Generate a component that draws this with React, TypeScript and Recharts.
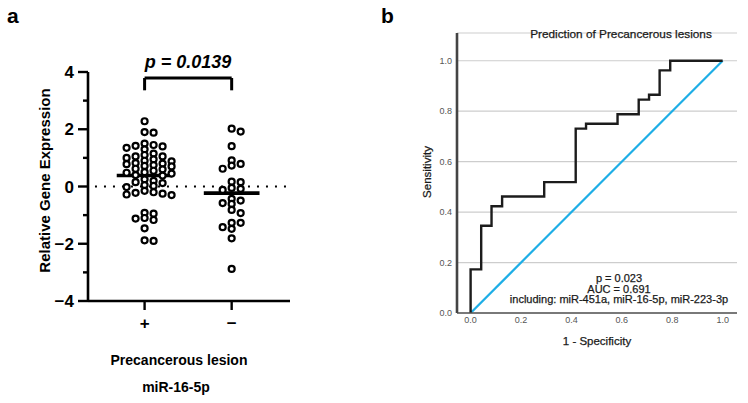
import React from 'react';
import {
  ScatterChart,
  Scatter,
  XAxis,
  YAxis,
  ReferenceLine,
  LineChart,
  Line,
  CartesianGrid,
} from 'recharts';

// ---- Panel a: miR-16-5p relative expression by lesion status ----
const lesionGroups = ['+', '−'];
const lesionPositive = [
  2.28,
  1.9, 1.88,
  1.5, 1.45, 1.42, 1.4, 1.35, 1.3,
  1.15, 1.1, 1.05, 1.05, 1.0, 0.95, 0.9, 0.88,
  0.82, 0.8, 0.78, 0.75, 0.72, 0.7, 0.62, 0.6,
  0.55, 0.5, 0.48, 0.45, 0.4, 0.38,
  0.25, 0.2, 0.15, 0.12, 0.05, 0.02, -0.02,
  -0.15, -0.2, -0.22, -0.25, -0.28, -0.3,
  -0.92, -0.95, -1.1, -1.12, -1.17,
  -1.46,
  -1.88, -1.9,
];
const lesionNegative = [
  2.02, 1.92, 1.41, 0.91, 0.79, 0.73, 0.62, 0.17, 0.15,
  -0.05, -0.08, -0.12, -0.43, -0.49, -0.58, -0.61, -0.82, -0.93,
  -1.27, -1.27, -1.42, -1.48, -1.81, -2.88,
];
const expressionTicks = [-4, -3, -2, -1, 0, 1, 2, 3, 4];
const pValueA = 'p = 0.0139';

// ---- Panel b: ROC curve ----
const rocFpr = [0, 0, 0.042, 0.083, 0.125, 0.292, 0.417, 0.458, 0.583, 0.667, 0.708, 0.75, 0.792, 1];
const rocTpr = [0, 0.173, 0.346, 0.423, 0.462, 0.519, 0.731, 0.75, 0.788, 0.846, 0.865, 0.962, 1, 1];
const chanceLine = [0, 1];
const rocTicks = [0, 0.2, 0.4, 0.6, 0.8, 1];
const rocTitle = 'Prediction of Precancerous lesions';
const rocStats = ['p = 0.023', 'AUC = 0.691', 'including: miR-451a, miR-16-5p, miR-223-3p'];

const FONT = 'Liberation Sans, Arial, Helvetica, sans-serif';

// Layout of panel a
const A_W = 300;
const A_H = 403;
const A_MARGIN = { top: 72, right: 10, bottom: 72, left: 48 };
const A_YAXIS_W = 40;
const A_XAXIS_H = 30;
const A_XDOMAIN: [number, number] = [0.35, 2.67];
const A_YDOMAIN: [number, number] = [-4, 4];
const A_PLOT_W = A_W - A_MARGIN.left - A_YAXIS_W - A_MARGIN.right;
const A_PLOT_H = A_H - A_MARGIN.top - A_MARGIN.bottom - A_XAXIS_H;
const PX_PER_X = A_PLOT_W / (A_XDOMAIN[1] - A_XDOMAIN[0]);
const PX_PER_Y = A_PLOT_H / (A_YDOMAIN[1] - A_YDOMAIN[0]);

// Column scatter: each value keeps its y and takes the nearest column
// (9 px apart) where it stays at least 5 px from the points already there
function swarm(values: number[], center: number) {
  const step = 9;
  const minDy = 5;
  const placed: { off: number; v: number }[] = [];
  const order = [...values].sort((a, b) => b - a);
  return order.map((v) => {
    for (let k = 0; k < 60; k++) {
      const off = (k % 2 === 1 ? 1 : -1) * Math.ceil(k / 2) * step;
      const hit = placed.some(
        (p) => Math.abs(p.off - off) < step * 0.5 && Math.abs((p.v - v) * PX_PER_Y) < minDy,
      );
      if (!hit) {
        placed.push({ off, v });
        return { x: center + off / PX_PER_X, y: v };
      }
    }
    return { x: center, y: v };
  });
}

const mean = (arr: number[]) => arr.reduce((s, v) => s + v, 0) / arr.length;

const positivePoints = swarm(lesionPositive, 1);
const negativePoints = swarm(lesionNegative, 2);
const positiveMean = mean(lesionPositive);
const negativeMean = mean(lesionNegative);
const MEAN_HALF = 0.32;

const rocData = rocFpr.map((x, i) => ({ x, y: rocTpr[i] }));
const chanceData = chanceLine.map((v) => ({ x: v, y: v }));

const OpenDot = (props: any) => {
  const { cx, cy } = props;
  if (cx == null || cy == null) return null;
  return <circle cx={cx} cy={cy} r={3} fill="#fff" stroke="#000" strokeWidth={2.2} />;
};

const ExpressionTick = (props: any) => {
  const { x, y, payload } = props;
  const v = payload.value as number;
  const major = v % 2 === 0;
  return (
    <g>
      <line x1={x - (major ? 10 : 5)} x2={x} y1={y} y2={y} stroke="#000" strokeWidth={2.4} />
      {major && (
        <text
          x={x - 14}
          y={y}
          dy="0.36em"
          textAnchor="end"
          fontSize={17}
          fontWeight="bold"
          fontFamily={FONT}
          fill="#000"
        >
          {v < 0 ? `−${-v}` : `${v}`}
        </text>
      )}
    </g>
  );
};

const GroupTick = (props: any) => {
  const { x, y, payload } = props;
  const label = lesionGroups[Math.round(payload.value) - 1];
  return (
    <g>
      <line x1={x} x2={x} y1={y} y2={y + 9} stroke="#000" strokeWidth={2.4} />
      <text
        x={x}
        y={y + 28}
        textAnchor="middle"
        fontSize={17}
        fontWeight="bold"
        fontFamily={FONT}
        fill="#000"
      >
        {label}
      </text>
    </g>
  );
};

function PanelA() {
  const bracketLow = 3.36;
  const bracketHigh = 3.79;
  return (
    <ScatterChart width={A_W} height={A_H} margin={A_MARGIN}>
      <XAxis
        type="number"
        dataKey="x"
        domain={A_XDOMAIN}
        ticks={[1, 2]}
        allowDataOverflow
        height={A_XAXIS_H}
        tickSize={0}
        tickMargin={0}
        tickLine={false}
        axisLine={{ stroke: '#000', strokeWidth: 2.6 }}
        tick={<GroupTick />}
      />
      <YAxis
        type="number"
        dataKey="y"
        domain={A_YDOMAIN}
        ticks={expressionTicks}
        allowDataOverflow
        width={A_YAXIS_W}
        tickSize={0}
        tickMargin={0}
        tickLine={false}
        axisLine={{ stroke: '#000', strokeWidth: 2.6 }}
        tick={<ExpressionTick />}
      />
      <ReferenceLine
        segment={[{ x: 0.43, y: 0 }, { x: 2.67, y: 0 }]}
        stroke="#000"
        strokeWidth={2.2}
        strokeDasharray="2 7"
      />
      <Scatter data={positivePoints} shape={<OpenDot />} isAnimationActive={false} />
      <Scatter data={negativePoints} shape={<OpenDot />} isAnimationActive={false} />
      <ReferenceLine
        segment={[{ x: 1 - MEAN_HALF, y: positiveMean }, { x: 1 + MEAN_HALF, y: positiveMean }]}
        stroke="#000"
        strokeWidth={3.6}
      />
      <ReferenceLine
        segment={[{ x: 2 - MEAN_HALF, y: negativeMean }, { x: 2 + MEAN_HALF, y: negativeMean }]}
        stroke="#000"
        strokeWidth={3.6}
      />
      <ReferenceLine segment={[{ x: 1, y: bracketLow }, { x: 1, y: bracketHigh }]} stroke="#000" strokeWidth={3} />
      <ReferenceLine segment={[{ x: 1, y: bracketHigh }, { x: 2, y: bracketHigh }]} stroke="#000" strokeWidth={3} />
      <ReferenceLine segment={[{ x: 2, y: bracketHigh }, { x: 2, y: bracketLow }]} stroke="#000" strokeWidth={3} />
    </ScatterChart>
  );
}

// Layout of panel b
const B_W = 368;
const B_H = 403;
const B_MARGIN = { top: 33, right: 11, bottom: 60, left: 47 };

function PanelB() {
  return (
    <LineChart width={B_W} height={B_H} margin={B_MARGIN}>
      <CartesianGrid vertical={false} stroke="#cdcdcd" strokeWidth={1.2} />
      <XAxis
        type="number"
        dataKey="x"
        domain={[-0.054, 1.057]}
        ticks={rocTicks}
        allowDataOverflow
        height={30}
        tickSize={0}
        tickMargin={4}
        tickLine={false}
        axisLine={{ stroke: '#555', strokeWidth: 1.6 }}
        tickFormatter={(v: number) => v.toFixed(1)}
        tick={{ fontSize: 9, fill: '#555', fontFamily: FONT }}
      />
      <YAxis
        type="number"
        dataKey="y"
        domain={[0, 1.11]}
        ticks={rocTicks}
        allowDataOverflow
        width={30}
        tickSize={0}
        tickMargin={5}
        tickLine={false}
        axisLine={{ stroke: '#444', strokeWidth: 2.6 }}
        tickFormatter={(v: number) => v.toFixed(1)}
        tick={{ fontSize: 9, fill: '#555', fontFamily: FONT }}
      />
      <Line
        data={chanceData}
        dataKey="y"
        type="linear"
        stroke="#1eaee6"
        strokeWidth={2.2}
        dot={false}
        activeDot={false}
        isAnimationActive={false}
      />
      <Line
        data={rocData}
        dataKey="y"
        type="stepAfter"
        stroke="#1c1c1c"
        strokeWidth={2.4}
        dot={false}
        activeDot={false}
        isAnimationActive={false}
      />
    </LineChart>
  );
}

export default function App() {
  return (
    <div
      style={{
        position: 'absolute',
        left: 0,
        top: 0,
        width: 748,
        height: 403,
        background: '#fff',
        overflow: 'hidden',
      }}
    >
      <div style={{ position: 'absolute', left: 0, top: 0 }}>
        <PanelA />
      </div>
      <div style={{ position: 'absolute', left: 380, top: 0 }}>
        <PanelB />
      </div>
      <svg
        width={748}
        height={403}
        style={{ position: 'absolute', left: 0, top: 0, pointerEvents: 'none' }}
        fontFamily={FONT}
      >
        {/* panel letters */}
        <text x={7} y={23} fontSize={21} fontWeight="bold" fill="#000">a</text>
        <text x={381} y={23} fontSize={21} fontWeight="bold" fill="#000">b</text>

        {/* panel a texts */}
        <text x={188} y={68} textAnchor="middle" fontSize={18} fontWeight="bold" fontStyle="italic" fill="#000">
          {pValueA}
        </text>
        <text transform="translate(50,180.5) rotate(-90)" textAnchor="middle" fontSize={15} fontWeight="bold" fill="#000">
          Relative Gene Expression
        </text>
        <text x={179} y={365} textAnchor="middle" fontSize={14} fontWeight="bold" fill="#000">
          Precancerous lesion
        </text>
        <text x={176} y={392} textAnchor="middle" fontSize={14} fontWeight="bold" fill="#000">
          miR-16-5p
        </text>

        {/* panel b texts */}
        <text x={621} y={37.5} textAnchor="middle" fontSize={11.8} fill="#1a1a1a" stroke="#1a1a1a" strokeWidth={0.25}>
          {rocTitle}
        </text>
        <text transform="translate(431,172) rotate(-90)" textAnchor="middle" fontSize={11.5} fill="#1a1a1a" stroke="#1a1a1a" strokeWidth={0.25}>
          Sensitivity
        </text>
        <text x={597} y={345} textAnchor="middle" fontSize={11.5} fill="#1a1a1a" stroke="#1a1a1a" strokeWidth={0.25}>
          1 - Specificity
        </text>
        {rocStats.map((s, i) => (
          <text
            key={s}
            x={619}
            y={282 + i * 10.6}
            textAnchor="middle"
            fontSize={11}
            fill="#1a1a1a"
            stroke="#1a1a1a"
            strokeWidth={0.25}
          >
            {s}
          </text>
        ))}
      </svg>
    </div>
  );
}
